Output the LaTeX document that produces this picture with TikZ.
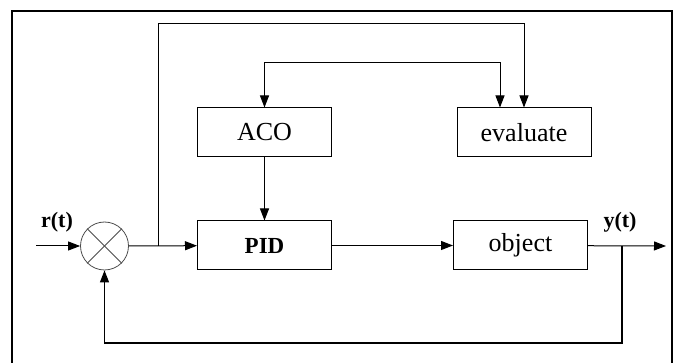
\documentclass[tikz,border=0pt]{standalone}
\usepackage{fontspec}
\setmainfont{Liberation Serif}
\usetikzlibrary{arrows.meta, positioning, calc}

\begin{document}
\begin{tikzpicture}[x=1pt, y=-1pt]
        \tikzset{block/.style={draw,
                align=center,
                line width = 1,
                minimum width = 134pt,
                minimum height = 49pt,
                inner sep = 0pt,
                font = \fontsize{26}{30}\selectfont
        }}
        \tikzset{summer/.style={draw=black!70,
                circle,
                line width = 0.8,
                minimum size = 48pt,
                inner sep = 0pt
        }}
        \tikzset{signal/.style={font = \fontsize{22}{26}\selectfont\bfseries}}
        \tikzset{connector/.style={-{Triangle[length=12pt,width=9pt]}, line width = 1}}
        \tikzset{twoway/.style={{Triangle[length=12pt,width=9pt]}-{Triangle[length=12pt,width=9pt]}, line width = 1}}

        \useasboundingbox (0,0) rectangle (678,363);
        % outer frame, cut off at the bottom
        \draw[line width = 2] (12,363) -- (12,11) -- (672,11) -- (672,363);

        \node[block] (aco) at (264.5,132.5) {ACO};
        \node[block] (evaluate) at (524,132.5) {evaluate};
        \node[block, font = \fontsize{23}{27}\selectfont\bfseries] (pid) at (264.5,245.5) {PID};
        \node[block] (object) at (520.5,245.5) {object};
        \node[summer] (sum) at (104.5,246) {};
        \draw[black!70, line width = 0.8] (sum.north west) -- (sum.south east);
        \draw[black!70, line width = 0.8] (sum.north east) -- (sum.south west);

        \coordinate (input) at (36,246);
        \coordinate (output) at (666,246);
        \coordinate (error) at (158,246);
        \coordinate (measure) at (622,246);
        \node[signal] (rt) at (57,222) {r(t)};
        \node[signal] (yt) at (620,222) {y(t)};

        \draw[connector] (input) -- (sum);
        \draw[connector] (sum) -- (pid);
        \draw[connector] (aco) -- (pid);
        \draw[connector] (pid) -- (object);
        \draw[connector] (object) -- (output);
        \draw[connector] (error) -- (158,24) -| (evaluate.north);
        \draw[twoway] (aco.north) -- ++(0,-45) -| ([xshift=-24pt]evaluate.north);
        \draw[connector, line width = 1.3] (measure) -- (622,343) -| (sum.south);
\end{tikzpicture}
\end{document}
